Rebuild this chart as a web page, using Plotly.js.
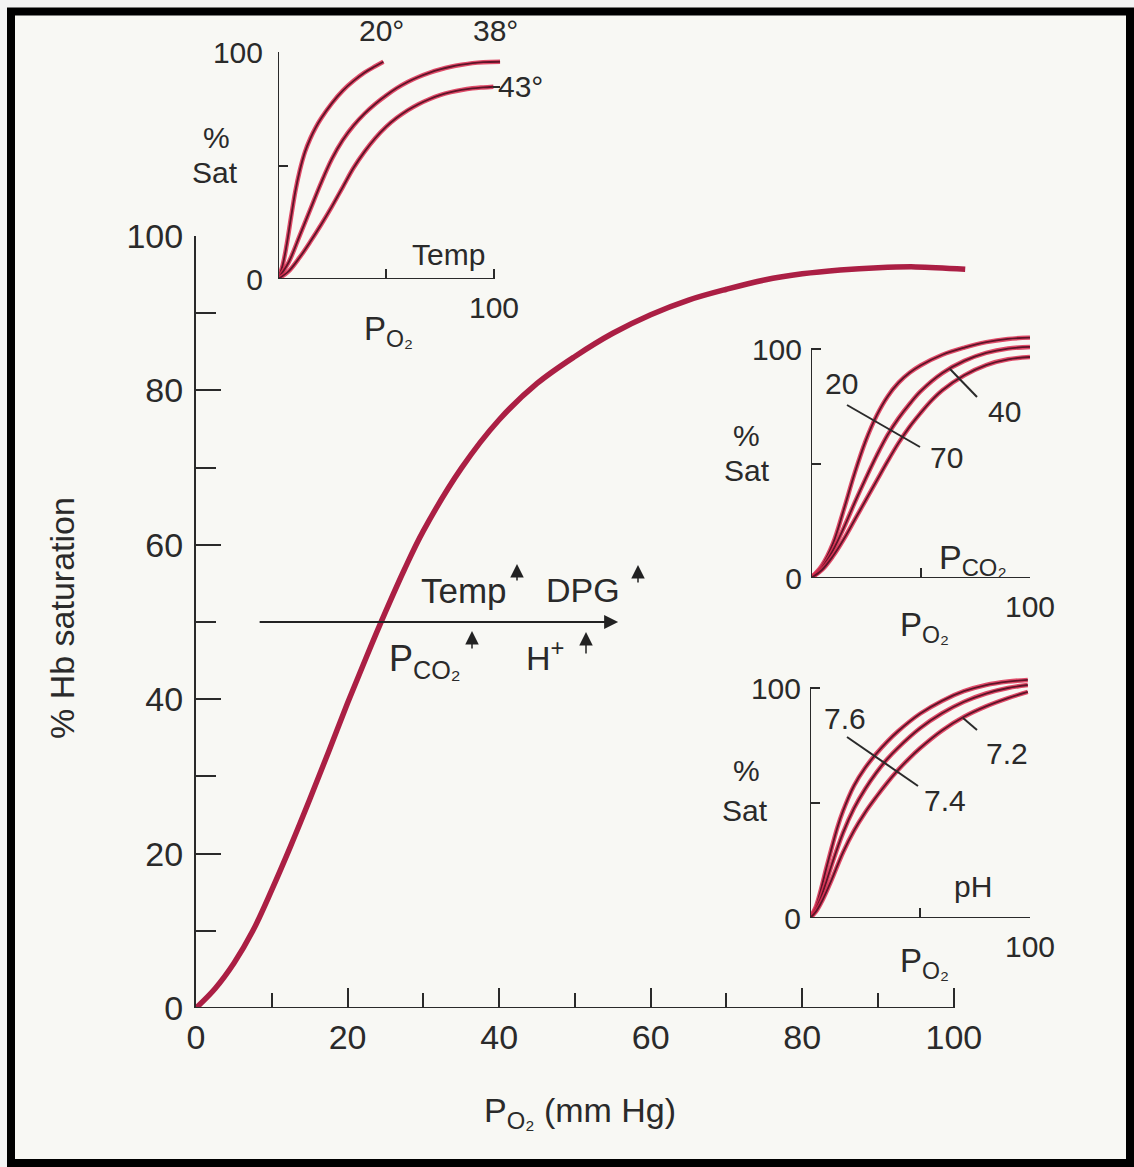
<!DOCTYPE html>
<html><head><meta charset="utf-8">
<script src="https://cdn.plot.ly/plotly-3.0.1.min.js"></script>
<style>html,body{margin:0;padding:0;background:#f4f4f4;}#chart{width:1134px;height:1167px;}</style>
</head><body><div id="chart"></div>
<script>
// ---- data ----
// main oxygen dissociation curve (PO2 mm Hg -> % Hb saturation)
const mainPO2 = [0, 2.5, 5, 7.5, 10, 12.5, 15, 17.5, 20, 22.5, 25, 27.5, 30, 35, 40, 45, 50, 55, 60, 65, 70, 75, 80, 85, 90, 95, 101.5];
const mainSat = [0, 2.5, 5.8, 10, 15.3, 21, 27, 33.2, 39.5, 45.5, 51.3, 56.8, 61.8, 69.9, 76.2, 80.9, 84.4, 87.4, 89.8, 91.7, 93.1, 94.3, 95.1, 95.6, 95.9, 96, 95.7];
// temperature inset
const temp20x = [0, 2, 4, 6, 8, 10, 12.5, 15, 17.5, 20, 25, 30, 35, 40, 45, 48.8];
const temp20y = [0, 5.5, 15, 27, 38.5, 47.5, 56, 62, 66.8, 70.8, 77.5, 83, 87.3, 90.9, 93.7, 95.7];
const temp38x = [0, 5, 10, 15, 20, 25, 30, 35, 40, 45, 50, 55, 60, 65, 70, 75, 80, 85, 90, 95, 102.8];
const temp38y = [0, 7.5, 19, 30.8, 42.5, 53, 61.2, 67.6, 72.8, 77.1, 80.8, 84.1, 86.8, 89, 90.8, 92.3, 93.5, 94.4, 95.1, 95.5, 95.7];
const temp43x = [0, 5, 10, 15, 20, 25, 30, 35, 40, 45, 50, 55, 60, 65, 70, 75, 80, 85, 90, 95, 99.7];
const temp43y = [0, 3.5, 9.5, 16.5, 24, 32, 40.5, 49, 56, 62, 67, 71, 74.3, 77, 79.2, 81, 82.3, 83.3, 84, 84.4, 84.7];
// PCO2 inset
const pco20x = [0, 5, 10, 15, 20, 25, 30, 35, 40, 45, 50, 60, 70, 80, 90, 100];
const pco20y = [0, 5.5, 15, 30, 46, 60, 71, 79.3, 85.3, 89.6, 92.8, 97.5, 100.6, 103, 104.4, 105];
const pco40x = [0, 5, 10, 15, 20, 25, 30, 35, 40, 45, 50, 60, 70, 80, 90, 100];
const pco40y = [0, 4.5, 12, 22, 33, 43.5, 53.5, 62.5, 69.8, 76, 81.5, 89.5, 94.8, 98.3, 100.2, 100.9];
const pco70x = [0, 5, 10, 15, 20, 25, 30, 35, 40, 45, 50, 55, 60, 70, 80, 90, 100];
const pco70y = [0, 3.5, 9.5, 17, 25.5, 34, 42.5, 51, 59, 66, 72, 77.5, 82, 88.5, 93, 95.5, 96.5];
// pH inset
const ph76x = [0, 2.5, 5, 7.5, 10, 12.5, 15, 20, 25, 30, 35, 40, 50, 60, 70, 80, 90, 99];
const ph76y = [0, 4.5, 12.5, 22, 31, 39.5, 46.5, 57.5, 65.2, 71.3, 76.6, 81.2, 88.8, 94.4, 98.6, 101.3, 102.8, 103.5];
const ph74x = [0, 2.5, 5, 7.5, 10, 15, 20, 25, 30, 35, 40, 50, 60, 70, 80, 90, 99];
const ph74y = [0, 3.5, 9, 16, 23.5, 37, 47.7, 56, 63, 69, 74, 82.5, 89, 94, 97.6, 100, 101.3];
const ph72x = [0, 2.5, 5, 7.5, 10, 15, 20, 25, 30, 35, 40, 45, 50, 60, 70, 80, 90, 99];
const ph72y = [0, 2.5, 6.5, 11.5, 17, 28.5, 38, 45.8, 52.5, 58.7, 64.3, 69.3, 73.8, 81.5, 87.5, 92, 95.6, 98.3];
// tick labels
const mainTicks = [0, 20, 40, 60, 80, 100];
const insetYTicks = [0, 50, 100];
const insetYText = ['0', '', '100'];
const insetXTicks = [50, 100];
const insetXText = ['', '100'];
// shift arrow (P50 line)
const shiftFrom = [8.2, 50];
const shiftTo = [55.7, 50];

// ---- layout helpers ----
const W = 1134, H = 1167;
const fx = p => p / W, fy = p => 1 - p / H;
const FONT = 'Liberation Sans, Arial, Helvetica, sans-serif';
const TXT = '#2a2a2a';
const AX = '#2a2a2a';

const traces = [];
function curve(x, y, xa, ya, main) {
  const base = {x, y, xaxis: xa, yaxis: ya, mode: 'lines', hoverinfo: 'skip'};
  if (main) {
    traces.push(Object.assign({}, base, {line: {color: '#ab1f44', width: 5.5, shape: 'spline', smoothing: 1, simplify: false}}));
  } else {
    traces.push(Object.assign({}, base, {line: {color: 'rgba(220,45,80,0.85)', width: 4.5, shape: 'spline', smoothing: 1, simplify: false}}));
    traces.push(Object.assign({}, base, {line: {color: '#5e1428', width: 1.8, shape: 'spline', smoothing: 1, simplify: false}}));
  }
}
curve(mainPO2, mainSat, 'x', 'y', true);
curve(temp20x, temp20y, 'x2', 'y2');
curve(temp38x, temp38y, 'x2', 'y2');
curve(temp43x, temp43y, 'x2', 'y2');
curve(pco20x, pco20y, 'x3', 'y3');
curve(pco40x, pco40y, 'x3', 'y3');
curve(pco70x, pco70y, 'x3', 'y3');
curve(ph76x, ph76y, 'x4', 'y4');
curve(ph74x, ph74y, 'x4', 'y4');
curve(ph72x, ph72y, 'x4', 'y4');

function insetX(domain, range, anchor) {
  return {domain, range, anchor, showline: false, showgrid: false, zeroline: false,
    ticks: 'inside', ticklen: 10, tickwidth: 2, tickcolor: AX,
    tickmode: 'array', tickvals: insetXTicks, ticktext: insetXText,
    tickfont: {family: FONT, size: 30, color: TXT}, ticklabelstandoff: 8, fixedrange: true};
}
function insetY(domain, range, anchor, standoff) {
  return {domain, range, anchor, showline: false, showgrid: false, zeroline: false,
    ticks: 'inside', ticklen: 10, tickwidth: 2, tickcolor: AX,
    tickmode: 'array', tickvals: insetYTicks, ticktext: insetYText,
    tickfont: {family: FONT, size: 30, color: TXT}, ticklabelstandoff: standoff, fixedrange: true};
}

const layout = {
  width: W, height: H,
  margin: {l: 0, r: 0, t: 0, b: 0},
  paper_bgcolor: '#f4f4f4', plot_bgcolor: 'rgba(0,0,0,0)',
  showlegend: false,
  font: {family: FONT, color: TXT},
  xaxis: {domain: [fx(196), fx(969)], range: [0, 102], anchor: 'y', showline: false, showgrid: false, zeroline: false,
    ticks: 'inside', ticklen: 20, tickwidth: 2, tickcolor: AX, tickmode: 'array', tickvals: mainTicks,
    minor: {ticks: 'inside', ticklen: 15, tickwidth: 2, tickcolor: AX, dtick: 10, tick0: 0},
    tickfont: {family: FONT, size: 34, color: TXT}, ticklabelstandoff: 6, fixedrange: true},
  yaxis: {domain: [fy(1008), fy(236)], range: [0, 100], anchor: 'x', showline: true, linewidth: 2, linecolor: AX,
    showgrid: false, zeroline: false,
    ticks: 'inside', ticklen: 25, tickwidth: 2, tickcolor: AX, tickmode: 'array', tickvals: mainTicks,
    minor: {ticks: 'inside', ticklen: 20, tickwidth: 2, tickcolor: AX, dtick: 10, tick0: 0},
    tickfont: {family: FONT, size: 34, color: TXT}, ticklabelstandoff: 4, fixedrange: true},
  xaxis2: insetX([fx(278), fx(278 + 2.16 * 104)], [0, 104], 'y2'),
  yaxis2: insetY([fy(279), fy(279 - 2.27 * 100)], [0, 100], 'x2', 14),
  xaxis3: insetX([fx(811), fx(1030)], [0, 100], 'y3'),
  yaxis3: insetY([fy(578), fy(578 - 2.29 * 106)], [0, 106], 'x3', 8),
  xaxis4: insetX([fx(810), fx(1030)], [0, 100], 'y4'),
  yaxis4: insetY([fy(918), fy(918 - 2.30 * 106)], [0, 106], 'x4', 8),
  shapes: [],
  annotations: []
};

// frame
layout.shapes.push({type: 'rect', xref: 'paper', yref: 'paper', x0: fx(11), x1: fx(1130), y0: fy(1163), y1: fy(11.5),
  line: {color: '#000', width: 8}, fillcolor: '#f8f8f4', layer: 'below'});
// axis lines
function aline(xr, yr, x0, y0, x1, y1, w) {
  layout.shapes.push({type: 'line', xref: xr, yref: yr, x0, y0, x1, y1, line: {color: AX, width: w || 2}});
}
aline('x', 'y', 0, 0, 100, 0, 2);
aline('x2', 'y2', 0, 0, 100, 0); aline('x2', 'y2', 0, 0, 0, 100);
aline('x3', 'y3', 0, 0, 100, 0); aline('x3', 'y3', 0, 0, 0, 100);
aline('x4', 'y4', 0, 0, 100, 0); aline('x4', 'y4', 0, 0, 0, 100);
// leader lines (pixel positions)
function pline(x0, y0, x1, y1) {
  layout.shapes.push({type: 'line', xref: 'paper', yref: 'paper', x0: fx(x0), y0: fy(y0), x1: fx(x1), y1: fy(y1), line: {color: AX, width: 2}});
}
pline(493, 87, 500, 87);
pline(847, 405, 920, 447);
pline(950, 369, 977, 397);
pline(847, 737, 918, 786);
pline(963, 718, 977, 730);

// text helper (pixel centred)
function T(text, px, py, size, extra) {
  layout.annotations.push(Object.assign({text, x: fx(px), y: fy(py), xref: 'paper', yref: 'paper',
    xanchor: 'center', yanchor: 'middle', showarrow: false, font: {family: FONT, size, color: TXT}}, extra || {}));
}
// main titles
T('P<sub>O₂</sub> (mm Hg)', 580, 1112, 34);
T('% Hb saturation', 62, 618, 34, {textangle: -90});
// temp inset
T('20°', 381, 31, 30);
T('38°', 495, 31, 30);
T('43°', 520, 87, 30);
T('%', 216, 137, 30);
T('Sat', 215, 173, 30);
T('Temp', 448, 254, 30);
T('P<sub>O₂</sub>', 388, 331, 33);
// PCO2 inset
T('%', 746, 435, 30);
T('Sat', 747, 470, 30);
T('20', 841, 384, 30);
T('40', 1004, 412, 30);
T('70', 946, 458, 30);
T('P<sub>CO₂</sub>', 973, 560, 34);
T('P<sub>O₂</sub>', 924, 627, 33);
// pH inset
T('%', 746, 770, 30);
T('Sat', 745, 810, 30);
T('7.6', 845, 718, 30);
T('7.2', 1007, 753, 30);
T('7.4', 945, 800, 30);
T('pH', 973, 886, 30);
T('P<sub>O₂</sub>', 924, 963, 33);
// shift labels
T('Temp', 464, 590, 35);
T('DPG', 583, 590, 34);
T('P<sub>CO₂</sub>', 425, 661, 36);
T('H<sup>+</sup>', 545, 655, 34);
// shift arrow
layout.annotations.push({xref: 'x', yref: 'y', axref: 'x', ayref: 'y', x: shiftTo[0], y: shiftTo[1], ax: shiftFrom[0], ay: shiftFrom[1],
  text: '', showarrow: true, arrowhead: 2, arrowsize: 1.4, arrowwidth: 2, arrowcolor: '#222'});
// small up arrows
function up(px, py0, py1) {
  layout.annotations.push({xref: 'paper', yref: 'paper', axref: 'pixel', ayref: 'pixel', x: fx(px), y: fy(py1), ax: 0, ay: (py0 - py1),
    text: '', showarrow: true, arrowhead: 2, arrowsize: 1.8, arrowwidth: 1.5, arrowcolor: '#222'});
}
up(517, 582, 564);
up(638, 584, 565);
up(472, 650, 631);
up(586, 655, 632);

Plotly.newPlot('chart', traces, layout, {displayModeBar: false, staticPlot: true});
</script></body></html>
